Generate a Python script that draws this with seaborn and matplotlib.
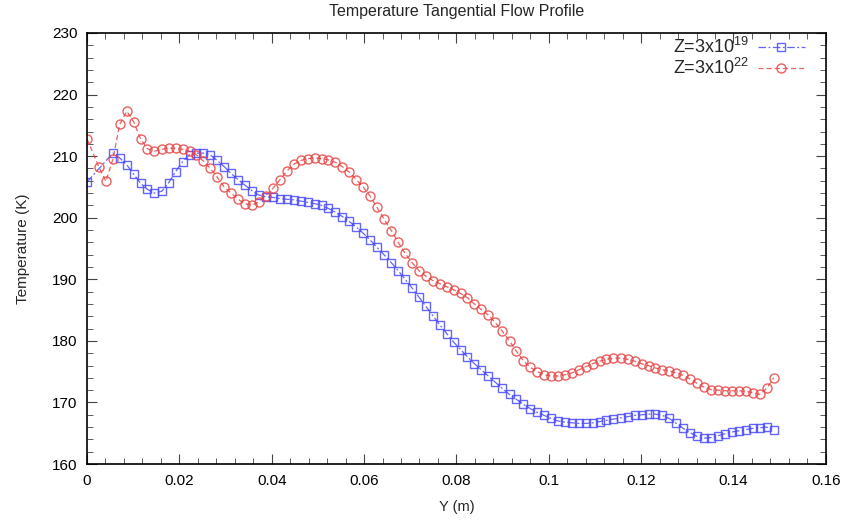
import matplotlib
matplotlib.use("Agg")
import matplotlib.pyplot as plt
import seaborn as sns
import numpy as np
from matplotlib.ticker import MultipleLocator

# sample positions (m)
y_pos = [0.0026, 0.0041, 0.0056, 0.0071, 0.0086, 0.0101, 0.0116, 0.0131, 0.0146, 0.0162,
         0.0177, 0.0192, 0.0207, 0.0222, 0.0237, 0.0252, 0.0267, 0.0282, 0.0297, 0.0312,
         0.0327, 0.0342, 0.0357, 0.0372, 0.0387, 0.0403, 0.0418, 0.0433, 0.0448, 0.0463,
         0.0478, 0.0493, 0.0508, 0.0523, 0.0538, 0.0553, 0.0568, 0.0583, 0.0598, 0.0613,
         0.0628, 0.0643, 0.0659, 0.0674, 0.0689, 0.0704, 0.0719, 0.0734, 0.0749, 0.0764,
         0.0779, 0.0794, 0.0809, 0.0824, 0.0839, 0.0854, 0.0869, 0.0884, 0.0899, 0.0915,
         0.0930, 0.0945, 0.0960, 0.0975, 0.0990, 0.1005, 0.1020, 0.1035, 0.1050, 0.1065,
         0.1080, 0.1095, 0.1110, 0.1125, 0.1140, 0.1156, 0.1171, 0.1186, 0.1201, 0.1216,
         0.1231, 0.1246, 0.1261, 0.1276, 0.1291, 0.1306, 0.1321, 0.1336, 0.1351, 0.1366,
         0.1381, 0.1396, 0.1412, 0.1427, 0.1442, 0.1457, 0.1472, 0.1487]

# Z=3x10^19 (starts at y_pos[2], plus wall point at 0)
wall_19 = 205.8
temp_19 = [210.5, 209.7, 208.6, 207.1, 205.6, 204.6, 204.0, 204.3,
           205.7, 207.5, 209.1, 210.2, 210.5, 210.5, 210.2, 209.3, 208.3, 207.2,
           206.2, 205.3, 204.4, 203.7, 203.4, 203.3, 203.1, 203.0, 202.9, 202.7,
           202.5, 202.3, 202.0, 201.5, 200.9, 200.2, 199.4, 198.5, 197.5, 196.4,
           195.2, 194.0, 192.7, 191.4, 190.0, 188.6, 187.1, 185.6, 184.1, 182.6,
           181.2, 179.8, 178.6, 177.4, 176.3, 175.3, 174.3, 173.3, 172.3, 171.3,
           170.5, 169.7, 169.0, 168.4, 167.9, 167.4, 167.0, 166.8, 166.7, 166.6,
           166.6, 166.7, 166.9, 167.1, 167.3, 167.5, 167.7, 167.9, 168.0, 168.1,
           168.1, 167.9, 167.4, 166.6, 165.8, 165.1, 164.5, 164.2, 164.3, 164.6,
           164.9, 165.2, 165.4, 165.6, 165.8, 165.9, 166.0, 165.5]

# Z=3x10^22
wall_22 = 212.8
temp_22 = [208.2, 205.9, 209.5, 215.2, 217.3, 215.6, 212.8, 211.2, 210.8, 211.1,
           211.3, 211.3, 211.1, 210.8, 210.2, 209.2, 208.0, 206.6, 205.0, 204.0,
           203.0, 202.3, 202.0, 202.6, 203.6, 204.8, 206.2, 207.6, 208.7, 209.3,
           209.6, 209.7, 209.6, 209.4, 209.0, 208.3, 207.4, 206.2, 205.0, 203.5,
           201.7, 199.8, 197.9, 196.0, 194.2, 192.7, 191.4, 190.5, 189.8, 189.3,
           188.8, 188.3, 187.7, 187.0, 186.0, 185.1, 184.2, 183.0, 181.6, 180.0,
           178.3, 176.8, 175.7, 175.0, 174.5, 174.3, 174.3, 174.5, 174.8, 175.3,
           175.8, 176.3, 176.7, 177.0, 177.2, 177.2, 177.0, 176.7, 176.3, 176.0,
           175.6, 175.3, 175.1, 174.8, 174.4, 173.8, 173.1, 172.5, 172.1, 172.0,
           171.9, 171.9, 171.9, 171.8, 171.6, 171.3, 172.3, 174.0]

labels = [r"Z=3x10$^{19}$", r"Z=3x10$^{22}$"]
title = "Temperature Tangential Flow Profile"
xlabel = "Y (m)"
ylabel = "Temperature (K)"

sns.set_style("ticks")
plt.rcParams['font.family'] = ['Liberation Sans', 'DejaVu Sans']
plt.rcParams['mathtext.fontset'] = 'custom'
plt.rcParams['mathtext.rm'] = 'Liberation Sans'
plt.rcParams['mathtext.it'] = 'Liberation Sans'

fig = plt.figure(figsize=(8.47, 5.22), dpi=100)
ax = fig.add_axes([0.1027, 0.111, 0.8723, 0.8258])

x19 = [0.0] + y_pos[2:]
t19 = [wall_19] + temp_19
x22 = [0.0] + y_pos
t22 = [wall_22] + temp_22

blue = "#4a4aff"
red = "#e84444"
sns.lineplot(x=x19, y=t19, ax=ax, sort=False, color=blue, lw=0.9,
             marker='s', markersize=5.8, markerfacecolor='none',
             markeredgecolor=blue, markeredgewidth=1.0, alpha=0.85,
             label=labels[0])
ax.lines[-1].set_dashes([6, 2, 1.5, 2])
sns.lineplot(x=x22, y=t22, ax=ax, sort=False, color=red, lw=0.9,
             marker='o', markersize=6.5, markerfacecolor='none',
             markeredgecolor=red, markeredgewidth=1.0, alpha=0.85,
             label=labels[1])
ax.lines[-1].set_dashes([4, 2.5])

ax.set_xlim(0, 0.16)
ax.set_ylim(160, 230)
ax.xaxis.set_major_locator(MultipleLocator(0.02))
ax.xaxis.set_minor_locator(MultipleLocator(0.004))
ax.yaxis.set_major_locator(MultipleLocator(10))
ax.yaxis.set_minor_locator(MultipleLocator(2))
ax.set_xticks([0, 0.02, 0.04, 0.06, 0.08, 0.1, 0.12, 0.14, 0.16])
ax.set_xticklabels(["0", "0.02", "0.04", "0.06", "0.08", "0.1", "0.12", "0.14", "0.16"])
ax.tick_params(which='both', direction='in', top=True, right=True, color='#444444')
ax.tick_params(which='major', length=7, width=0.8, labelsize=11, pad=7, labelcolor='black')
ax.tick_params(which='minor', length=4, width=0.6)
for s in ax.spines.values():
    s.set_linewidth(1.2)
    s.set_color('black')
    s.set_visible(True)

ax.set_xlabel(xlabel, fontsize=10.5, labelpad=9)
ax.set_ylabel(ylabel, fontsize=11, labelpad=16)
ax.set_title(title, fontsize=11.5, pad=12)

leg = ax.legend(loc='upper right', frameon=False, markerfirst=False, fontsize=13,
                handlelength=2.6, handletextpad=0.5, borderpad=0, borderaxespad=0,
                labelspacing=0.05, bbox_to_anchor=(1 - 21 / 739, 1 - 4 / 431))

fig.savefig("out.png", dpi=100)
